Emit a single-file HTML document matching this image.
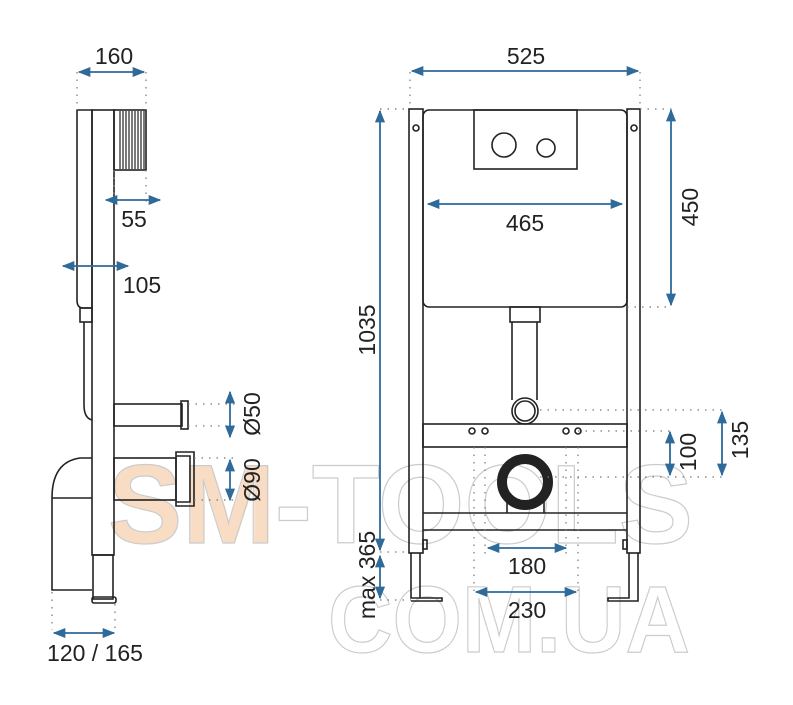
<!DOCTYPE html>
<html><head><meta charset="utf-8"><style>
html,body{margin:0;padding:0;background:#fff;width:793px;height:705px;overflow:hidden}
svg{display:block}
text{font-family:"Liberation Sans",sans-serif;fill:#222}
</style></head><body>
<svg width="793" height="705" viewBox="0 0 793 705" xmlns="http://www.w3.org/2000/svg">
<defs>
<marker id="a" viewBox="0 0 10 10" refX="9" refY="5" markerWidth="7" markerHeight="7" orient="auto-start-reverse"><path d="M0,1 L10,5 L0,9 Z" fill="#2e6a9a"/></marker>
</defs>
<g font-family="Liberation Sans" font-weight="bold">
<text x="108" y="543" font-size="112" style="fill:#f8dcc4">SM</text>
<text x="108" y="543" font-size="112" stroke="#ccc" stroke-width="1.2" style="fill:none" textLength="585" lengthAdjust="spacingAndGlyphs">SM-TOOLS</text>
<text x="328" y="652" font-size="95" stroke="#ccc" stroke-width="1.2" style="fill:none" textLength="362" lengthAdjust="spacingAndGlyphs">COM.UA</text>
</g>
<g fill="none" stroke="#222" stroke-width="1.6">
<path d="M77,110 H92 V308 H83 Q77,308 77,300 Z"/>
<rect x="92" y="110" width="22" height="445"/>
<rect x="114" y="110" width="32" height="60"/>
<path d="M120,111 V169 M123,111 V169 M126,111 V169 M129,111 V169 M132,111 V169 M135,111 V169 M138,111 V169 M141,111 V169 M144,111 V169" stroke-width="1.2"/>
<rect x="80" y="308" width="12" height="14"/>
<path d="M84,322 V405 Q84,418 92,420"/>
<rect x="114" y="404" width="68" height="22"/>
<rect x="181" y="401" width="7" height="28"/>
<rect x="114" y="458" width="62" height="42"/>
<path d="M176,452 H194 V506 H176 Z M176,456 H190 V502 H176"/>
<path d="M92,458 H80 Q52,462 52,498 V590 H92 M52,498 H92"/>
<rect x="93" y="555" width="20" height="44"/>
<rect x="92" y="597" width="24" height="6" rx="2"/>
<rect x="409" y="109" width="14" height="444"/>
<rect x="627" y="109" width="13" height="444"/>
<circle cx="416" cy="128" r="3"/><circle cx="634" cy="128" r="3"/>
<rect x="423" y="110" width="204" height="197" rx="6"/>
<rect x="474" y="110" width="103" height="59"/>
<circle cx="504" cy="145" r="12"/><circle cx="546" cy="148" r="9"/>
<rect x="510" y="307" width="30" height="15"/>
<path d="M512,322 V400 M537,322 V400"/>
<circle cx="525" cy="411" r="13"/><circle cx="525" cy="411" r="10"/>
<rect x="423" y="424" width="204" height="23"/>
<circle cx="472" cy="431" r="3"/><circle cx="485" cy="431" r="3"/>
<circle cx="566" cy="431" r="3"/><circle cx="578" cy="431" r="3"/>
<path d="M423,513 H627 M423,530 H627"/>
<path d="M507,513 V498 M544,513 V498"/>
<rect x="423" y="540" width="4" height="9"/><rect x="623" y="540" width="4" height="9"/>
<path d="M411,553 V598 H442 V601 H411 M420,553 V598"/>
<path d="M638,553 V601 H608 V598 H629 V553"/>
</g>
<circle cx="525" cy="482" r="23" fill="none" stroke="#222" stroke-width="10"/>
<g stroke="#777" stroke-width="1.2" stroke-dasharray="1.5 6" fill="none">
<path d="M77,72 V110 M146,72 V110 M114,170 V205 M146,170 V205 M52,592 V630 M115,604 V630"/>
<path d="M188,404 H235 M188,426 H235 M194,458 H235 M194,500 H235"/>
<path d="M410,72 V109 M640,72 V109 M380,109 H409 M640,109 H672 M627,307 H672"/>
<path d="M540,410 H722 M578,431 H672 M540,477 H722 M380,552 H409 M380,600 H411"/>
<path d="M474,447 V595 M485,447 V555 M566,447 V555 M578,447 V595"/>
</g>
<g stroke="#2e6a9a" stroke-width="1.8" fill="none" marker-start="url(#a)" marker-end="url(#a)">
<path d="M79,72 H144"/><path d="M106,200 H160"/><path d="M63,266 H128"/>
<path d="M230,392 V437"/><path d="M230,460 V500"/><path d="M54,633 H114"/>
<path d="M412,71 H638"/><path d="M380,111 V550"/><path d="M380,556 V598"/>
<path d="M671,110 V305"/><path d="M428,204 H622"/><path d="M670,432 V475"/>
<path d="M722,412 V475"/><path d="M488,548 H566"/><path d="M476,592 H576"/>
</g>
<g font-size="23" text-anchor="middle">
<text x="114" y="64">160</text>
<text x="134" y="227">55</text>
<text x="142" y="293">105</text>
<text x="526" y="64">525</text>
<text x="525" y="231">465</text>
<text x="527" y="574">180</text>
<text x="527" y="618">230</text>
<text x="95" y="661">120 / 165</text>
<text transform="translate(260,414) rotate(-90)">Ø50</text>
<text transform="translate(260,480) rotate(-90)">Ø90</text>
<text transform="translate(375,330) rotate(-90)">1035</text>
<text transform="translate(375,575) rotate(-90)">max 365</text>
<text transform="translate(698,207) rotate(-90)">450</text>
<text transform="translate(696,452) rotate(-90)">100</text>
<text transform="translate(748,440) rotate(-90)">135</text>
</g>
</svg>
</body></html>
